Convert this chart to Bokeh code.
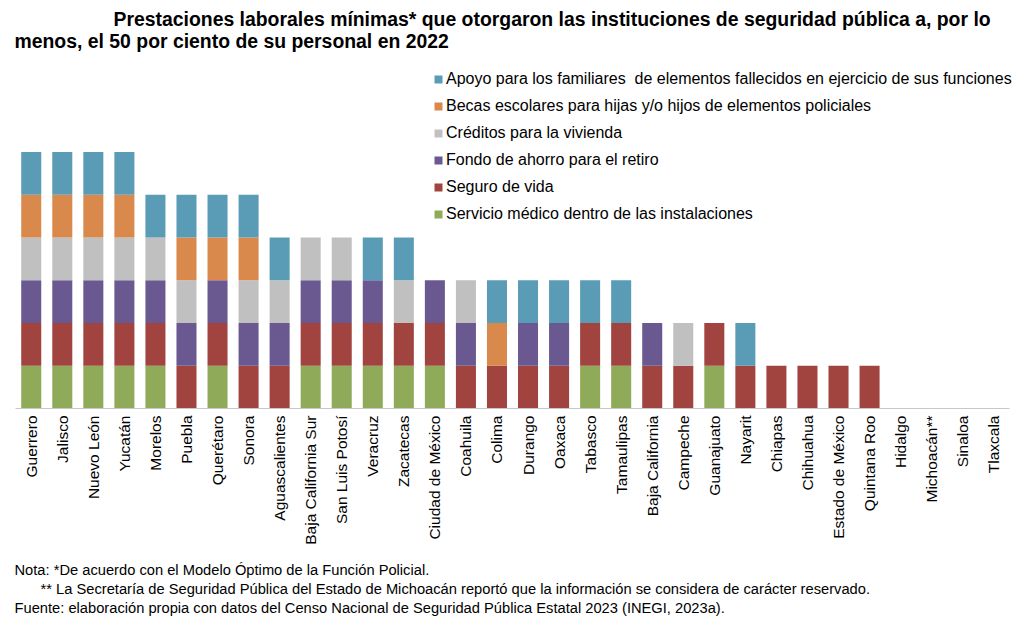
from bokeh.plotting import figure
from bokeh.models import ColumnDataSource, Legend, LegendItem, Label, FactorRange, Range1d
from bokeh.embed import file_html
from bokeh.resources import INLINE
from math import pi

states = ["Guerrero", "Jalisco", "Nuevo León", "Yucatán", "Morelos", "Puebla", "Querétaro", "Sonora",
          "Aguascalientes", "Baja California Sur", "San Luis Potosí", "Veracruz", "Zacatecas",
          "Ciudad de México", "Coahuila", "Colima", "Durango", "Oaxaca", "Tabasco", "Tamaulipas",
          "Baja California", "Campeche", "Guanajuato", "Nayarit", "Chiapas", "Chihuahua",
          "Estado de México", "Quintana Roo", "Hidalgo", "Michoacán**", "Sinaloa", "Tlaxcala"]

servicio = [1, 1, 1, 1, 1, 0, 1, 0, 0, 1, 1, 1, 1, 1, 0, 0, 0, 0, 1, 1, 0, 0, 1, 0, 0, 0, 0, 0, 0, 0, 0, 0]
seguro   = [1, 1, 1, 1, 1, 1, 1, 1, 1, 1, 1, 1, 1, 1, 1, 1, 1, 1, 1, 1, 1, 1, 1, 1, 1, 1, 1, 1, 0, 0, 0, 0]
fondo    = [1, 1, 1, 1, 1, 1, 1, 1, 1, 1, 1, 1, 0, 1, 1, 0, 1, 1, 0, 0, 1, 0, 0, 0, 0, 0, 0, 0, 0, 0, 0, 0]
creditos = [1, 1, 1, 1, 1, 1, 0, 1, 1, 1, 1, 0, 1, 0, 1, 0, 0, 0, 0, 0, 0, 1, 0, 0, 0, 0, 0, 0, 0, 0, 0, 0]
becas    = [1, 1, 1, 1, 0, 1, 1, 1, 0, 0, 0, 0, 0, 0, 0, 1, 0, 0, 0, 0, 0, 0, 0, 0, 0, 0, 0, 0, 0, 0, 0, 0]
apoyo    = [1, 1, 1, 1, 1, 1, 1, 1, 1, 0, 0, 1, 1, 0, 0, 1, 1, 1, 1, 1, 0, 0, 0, 1, 0, 0, 0, 0, 0, 0, 0, 0]

series_keys = ["servicio", "seguro", "fondo", "creditos", "becas", "apoyo"]
series_names = ["Servicio médico dentro de las instalaciones",
                "Seguro de vida",
                "Fondo de ahorro para el retiro",
                "Créditos para la vivienda",
                "Becas escolares para hijas y/o hijos de elementos policiales",
                "Apoyo para los familiares  de elementos fallecidos en ejercicio de sus funciones"]
colors = ["#8fab5a", "#a1433f", "#6a5891", "#c0c0c0", "#d9894b", "#5a9bb5"]

title_lines = ["Prestaciones laborales mínimas* que otorgaron las instituciones de seguridad pública a, por lo",
               "menos, el 50 por ciento de su personal en 2022"]
notes = ["Nota: *De acuerdo con el Modelo Óptimo de la Función Policial.",
         "** La Secretaría de Seguridad Pública del Estado de Michoacán reportó que la información se considera de carácter reservado.",
         "Fuente: elaboración propia con datos del Censo Nacional de Seguridad Pública Estatal 2023 (INEGI, 2023a)."]

source = ColumnDataSource(dict(state=states, servicio=servicio, seguro=seguro, fondo=fondo,
                               creditos=creditos, becas=becas, apoyo=apoyo))

W, H = 1024, 619
PAD = 0.49
x_start, x_end = -PAD, len(states) + PAD
UNIT = 42.75
BASE = 408
y_top = BASE / UNIT
y_bot = -(H - BASE) / UNIT

p = figure(x_range=FactorRange(*states, range_padding=PAD, range_padding_units="absolute"),
           y_range=Range1d(y_bot, y_top), width=W, height=H,
           output_backend="svg", toolbar_location=None,
           min_border_left=0, min_border_right=0, min_border_top=0, min_border_bottom=0)

renderers = p.vbar_stack(series_keys, x="state", width=0.645, color=colors, line_color=None, source=source)

p.yaxis.visible = False
p.xgrid.grid_line_color = None
p.ygrid.grid_line_color = None
p.outline_line_color = None
p.xaxis.fixed_location = 0
p.xaxis.bounds = (0, len(states))
p.xaxis.axis_line_color = "#c8c8c8"
p.xaxis.major_tick_line_color = None
p.xaxis.minor_tick_line_color = None
p.xaxis.major_tick_out = 0
p.xaxis.major_tick_in = 0
p.xaxis.major_label_orientation = pi / 2
p.xaxis.major_label_standoff = 7
p.xaxis.major_label_text_font = "Liberation Sans"
p.xaxis.major_label_text_font_size = "15.5px"
p.xaxis.major_label_text_color = "#000000"

items = [LegendItem(label=series_names[i], renderers=[renderers[i]]) for i in reversed(range(6))]
leg_top = 69
leg_h = 6 * 20 + 5 * 7
legend = Legend(items=items, location=(433, H - leg_top - leg_h), orientation="vertical",
                glyph_width=10, glyph_height=10, label_height=20, spacing=7, padding=0, margin=0,
                label_standoff=3, label_text_font="Liberation Sans", label_text_font_size="16px",
                label_text_color="#000000", border_line_color=None, background_fill_alpha=0)
p.add_layout(legend, "center")

def px(x):
    return x_start + x / W * (x_end - x_start)

def py(y):
    return (BASE - y) / UNIT

title_font = "Liberation Sans"
p.add_layout(Label(x=px(113), y=py(18), text=title_lines[0], text_font=title_font, text_font_style="bold",
                   text_font_size="19.4px", text_baseline="middle", text_color="#000000"))
p.add_layout(Label(x=px(14), y=py(40), text=title_lines[1], text_font=title_font, text_font_style="bold",
                   text_font_size="19.4px", text_baseline="middle", text_color="#000000"))

note_pos = [(14, 569.5), (40, 588), (14, 607)]
for (nx, ny), t in zip(note_pos, notes):
    p.add_layout(Label(x=px(nx), y=py(ny), text=t, text_font="Liberation Sans", text_font_size="14.7px",
                       text_baseline="middle", text_color="#000000"))

open("out.html", "w").write(file_html(p, INLINE))
